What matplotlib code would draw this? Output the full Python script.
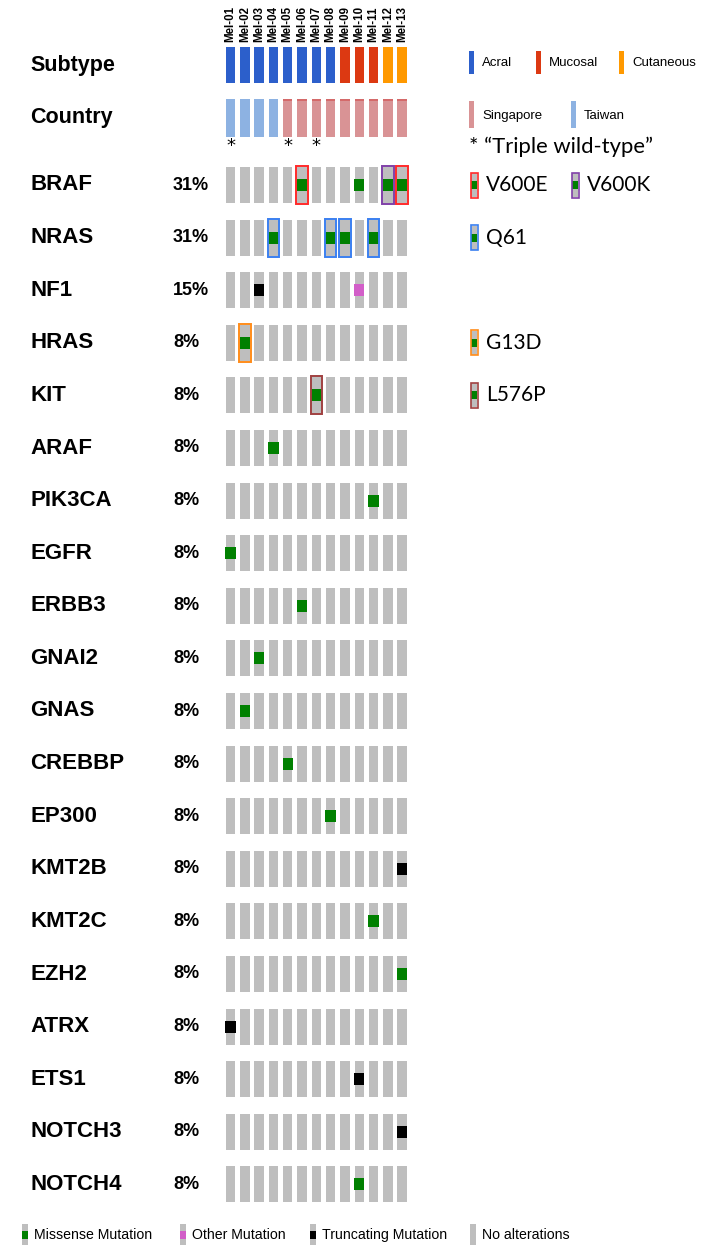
import matplotlib
matplotlib.use('Agg')
import matplotlib.pyplot as plt
from matplotlib.patches import Rectangle

# --- data ---
samples = ['Mel-01', 'Mel-02', 'Mel-03', 'Mel-04', 'Mel-05', 'Mel-06', 'Mel-07',
           'Mel-08', 'Mel-09', 'Mel-10', 'Mel-11', 'Mel-12', 'Mel-13']
subtype = ['Acral', 'Acral', 'Acral', 'Acral', 'Acral', 'Acral', 'Acral', 'Acral',
           'Mucosal', 'Mucosal', 'Mucosal', 'Cutaneous', 'Cutaneous']
country = ['Taiwan', 'Taiwan', 'Taiwan', 'Taiwan', 'Singapore', 'Singapore', 'Singapore',
           'Singapore', 'Singapore', 'Singapore', 'Singapore', 'Singapore', 'Singapore']
triple_wt = ['Mel-01', 'Mel-05', 'Mel-07']

genes = ['BRAF', 'NRAS', 'NF1', 'HRAS', 'KIT', 'ARAF', 'PIK3CA', 'EGFR', 'ERBB3', 'GNAI2',
         'GNAS', 'CREBBP', 'EP300', 'KMT2B', 'KMT2C', 'EZH2', 'ATRX', 'ETS1', 'NOTCH3', 'NOTCH4']
pct = ['31%', '31%', '15%', '8%', '8%', '8%', '8%', '8%', '8%', '8%',
       '8%', '8%', '8%', '8%', '8%', '8%', '8%', '8%', '8%', '8%']

# (gene, sample, alteration type, hotspot or None)
alterations = [
    ('BRAF', 'Mel-06', 'missense', 'V600E'),
    ('BRAF', 'Mel-10', 'missense', None),
    ('BRAF', 'Mel-12', 'missense', 'V600K'),
    ('BRAF', 'Mel-13', 'missense', 'V600E'),
    ('NRAS', 'Mel-04', 'missense', 'Q61'),
    ('NRAS', 'Mel-08', 'missense', 'Q61'),
    ('NRAS', 'Mel-09', 'missense', 'Q61'),
    ('NRAS', 'Mel-11', 'missense', 'Q61'),
    ('NF1', 'Mel-03', 'truncating', None),
    ('NF1', 'Mel-10', 'other', None),
    ('HRAS', 'Mel-02', 'missense', 'G13D'),
    ('KIT', 'Mel-07', 'missense', 'L576P'),
    ('ARAF', 'Mel-04', 'missense', None),
    ('PIK3CA', 'Mel-11', 'missense', None),
    ('EGFR', 'Mel-01', 'missense', None),
    ('ERBB3', 'Mel-06', 'missense', None),
    ('GNAI2', 'Mel-03', 'missense', None),
    ('GNAS', 'Mel-02', 'missense', None),
    ('CREBBP', 'Mel-05', 'missense', None),
    ('EP300', 'Mel-08', 'missense', None),
    ('KMT2B', 'Mel-13', 'truncating', None),
    ('KMT2C', 'Mel-11', 'missense', None),
    ('EZH2', 'Mel-13', 'missense', None),
    ('ATRX', 'Mel-01', 'truncating', None),
    ('ETS1', 'Mel-10', 'truncating', None),
    ('NOTCH3', 'Mel-13', 'truncating', None),
    ('NOTCH4', 'Mel-10', 'missense', None),
]

# hotspot legend: label, row it sits on, slot in that row
hotspot_legend = [('V600E', 'BRAF', 0), ('V600K', 'BRAF', 1), ('Q61', 'NRAS', 0),
                  ('G13D', 'HRAS', 0), ('L576P', 'KIT', 0)]

# --- styles ---
subtype_col = {'Acral': '#2c5fcb', 'Mucosal': '#dc3912', 'Cutaneous': '#ff9900'}
country_col = {'Singapore': '#d99395', 'Taiwan': '#8db2e2'}
alt_col = {'missense': '#008000', 'truncating': '#000000', 'other': '#d25ec8'}
hot_col = {'V600E': '#ff2a2a', 'V600K': '#8040a8', 'Q61': '#3a7ff0',
           'G13D': '#ff8c1a', 'L576P': '#a04040'}
GREY = '#bebebe'
SANS = 'Liberation Sans'
HUMAN = 'Lato'

x0, dx, cw = 230.5, 14.3, 9.4      # column centre, spacing, cell width
y0, dy, ch = 167.0, 52.6, 36.0     # first gene row top, spacing, cell height

fig = plt.figure(figsize=(7.08, 12.53), dpi=100)
ax = fig.add_axes([0, 0, 1, 1])
ax.set_xlim(0, 708)
ax.set_ylim(1253, 0)
ax.axis('off')


def cx(s):
    return x0 + dx * samples.index(s)


def rowtop(g):
    return y0 + dy * genes.index(g)


# sample names
for s in samples:
    ax.text(cx(s), 42, s, rotation=90, ha='center', va='bottom', fontsize=8.3,
            fontweight='bold', family=SANS)

# clinical tracks
ax.text(30, 65, 'Subtype', ha='left', va='center', fontsize=15.5, fontweight='bold', family=SANS)
ax.text(30, 118, 'Country', ha='left', va='center', fontsize=15.5, fontweight='bold', family=SANS)
for s, st, c in zip(samples, subtype, country):
    ax.add_patch(Rectangle((cx(s) - cw / 2, 47), cw, 36, color=subtype_col[st], lw=0))
    ax.add_patch(Rectangle((cx(s) - cw / 2, 99), cw, 38, color=country_col[c], lw=0))
    if c == 'Singapore':
        ax.add_patch(Rectangle((cx(s) - cw / 2, 99), cw, 1.5, color='#d46a6a', lw=0))
for s in triple_wt:
    ax.text(cx(s), 146, '*', ha='center', va='center', fontsize=13, family='DejaVu Sans')

# gene rows
for g, p in zip(genes, pct):
    t = rowtop(g)
    ax.text(30, t + ch / 2, g, ha='left', va='center', fontsize=16, fontweight='bold', family=SANS)
    ax.text(173, t + ch / 2, p, ha='left', va='center', fontsize=13, fontweight='bold', family=SANS)
    for s in samples:
        ax.add_patch(Rectangle((cx(s) - cw / 2, t), cw, ch, color=GREY, lw=0))

for g, s, kind, hot in alterations:
    t = rowtop(g)
    ax.add_patch(Rectangle((cx(s) - cw / 2 - 0.5, t + ch / 3), cw + 1, ch / 3,
                           color=alt_col[kind], lw=0))
    if hot:
        ax.add_patch(Rectangle((cx(s) - cw / 2 - 1, t - 1), cw + 2, ch + 2, fill=False,
                               ec=hot_col[hot], lw=1.4))

# right legends: subtype
for name, lx in zip(['Acral', 'Mucosal', 'Cutaneous'], [469, 536, 619]):
    ax.add_patch(Rectangle((lx, 51), 5, 23, color=subtype_col[name], lw=0))
    ax.text(lx + 13, 63, name, ha='left', va='center', fontsize=9.5, family=SANS)
for name, lx in zip(['Singapore', 'Taiwan'], [469, 571]):
    ax.add_patch(Rectangle((lx, 101), 5, 27, color=country_col[name], lw=0))
    ax.text(lx + 13, 116, name, ha='left', va='center', fontsize=9.5, family=SANS)
ax.text(469, 147, '* \u201cTriple wild-type\u201d', ha='left', va='center', fontsize=15.8, family=HUMAN)

# hotspot legend
for name, g, k in hotspot_legend:
    mid = rowtop(g) + ch / 2
    lx = 471 + 101 * k
    ax.add_patch(Rectangle((lx, mid - 12), 6, 24, color=GREY, lw=0))
    ax.add_patch(Rectangle((lx, mid - 4), 6, 8, color=alt_col['missense'], lw=0))
    ax.add_patch(Rectangle((lx - 0.5, mid - 12.5), 7, 25, fill=False, ec=hot_col[name], lw=1.2))
    ax.text(lx + 15, mid, name, ha='left', va='center', fontsize=15, family=HUMAN)

# bottom legend
bottom = [('Missense Mutation', 'missense', 22), ('Other Mutation', 'other', 180),
          ('Truncating Mutation', 'truncating', 310), ('No alterations', None, 470)]
for label, kind, lx in bottom:
    ax.add_patch(Rectangle((lx, 1224), 6, 21, color=GREY, lw=0))
    if kind:
        ax.add_patch(Rectangle((lx, 1231), 6, 8, color=alt_col[kind], lw=0))
    ax.text(lx + 12, 1235, label, ha='left', va='center', fontsize=10.2, family=SANS)

fig.savefig('out.png', dpi=100, facecolor='white')
